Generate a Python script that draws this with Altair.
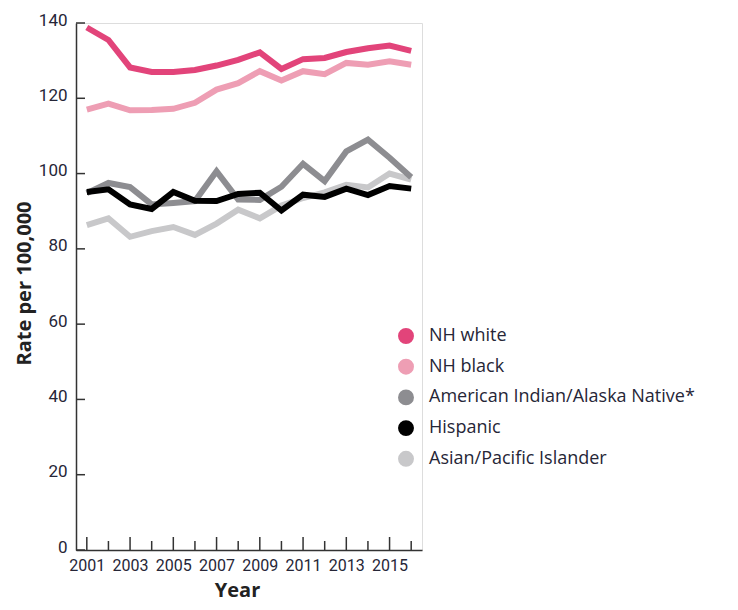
import altair as alt
import pandas as pd

years = list(range(2001, 2017))
nh_white = [138.8, 135.5, 128.2, 127.0, 127.0, 127.5, 128.7, 130.2, 132.2, 127.8, 130.4, 130.7, 132.3, 133.3, 134.0, 132.6]
nh_black = [117.0, 118.6, 116.8, 116.9, 117.2, 118.8, 122.3, 124.0, 127.2, 124.7, 127.2, 126.4, 129.4, 128.9, 129.8, 128.9]
aian = [94.8, 97.5, 96.4, 91.8, 92.2, 92.7, 100.6, 93.1, 93.0, 96.5, 102.6, 98.0, 105.9, 109.0, 104.2, 99.0]
hispanic = [95.1, 95.8, 91.8, 90.6, 95.1, 92.8, 92.7, 94.6, 94.9, 90.2, 94.4, 93.8, 96.0, 94.3, 96.7, 96.0]
asian = [86.3, 88.1, 83.2, 84.7, 85.8, 83.7, 86.7, 90.4, 88.1, 91.5, 93.5, 95.0, 97.0, 96.3, 100.0, 98.4]

legend_order = ["NH white", "NH black", "American Indian/Alaska Native*", "Hispanic", "Asian/Pacific Islander"]
colors = ["#E2447A", "#EE9EB4", "#8D8D91", "#000000", "#C8C8CA"]
draw_order = [("Asian/Pacific Islander", asian), ("American Indian/Alaska Native*", aian),
              ("Hispanic", hispanic), ("NH black", nh_black), ("NH white", nh_white)]

y_ticks = [0, 20, 40, 60, 80, 100, 120, 140]
x_label_years = [2001, 2003, 2005, 2007, 2009, 2011, 2013, 2015]

rows = []
for name, vals in draw_order:
    for yr, v in zip(years, vals):
        rows.append({"Year": yr, "Rate": v, "Group": name})
df = pd.DataFrame(rows)

W, H = 346, 527
TOP = 15
FONT = "Roboto, sans-serif"
TXT = "#262637"

xscale = alt.Scale(domain=[2000.5, 2016.5], nice=False, zero=False)
yscale = alt.Scale(domain=[0, 140], nice=False)

color_enc = alt.Color("Group:N", scale=alt.Scale(domain=legend_order, range=colors),
                      legend=alt.Legend(title=None, orient="none", legendX=321, legendY=304,
                                        symbolType="circle", symbolSize=254, symbolStrokeWidth=0,
                                        symbolOpacity=1, labelFont="Open Sans", labelFontSize=18,
                                        labelColor=TXT, labelOffset=14, rowPadding=12.7, padding=0,
                                        labelLimit=400))

x_enc = alt.X("Year:Q", scale=xscale,
              axis=alt.Axis(values=x_label_years, format="d", ticks=False, grid=False,
                            domainColor="#333333", domainWidth=1.5,
                            labelFont=FONT, labelFontSize=16, labelColor=TXT, labelPadding=7,
                            labelFlush=False,
                            title="Year", titleFont="Open Sans", titleFontSize=20, titleFontWeight="bold",
                            titleColor="#222222", titleX=161, titleY=46, titleBaseline="alphabetic",
                            titleAnchor="start", titleAlign="center"))
y_enc = alt.Y("Rate:Q", scale=yscale,
              axis=alt.Axis(values=y_ticks, ticks=False, grid=False,
                            domainColor="#333333", domainWidth=1.5,
                            labelFont=FONT, labelFontSize=17, labelColor=TXT, labelPadding=9,
                            labelOffset=-3,
                            title="Rate per 100,000", titleFont="Open Sans", titleFontSize=20,
                            titleFontWeight="bold", titleColor="#222222",
                            titleX=-52, titleY=260, titleAngle=-90, titleAlign="center",
                            titleBaseline="middle", titleAnchor="start"))

lines = alt.Chart(df).mark_line(strokeWidth=6, strokeJoin="miter", strokeCap="butt").encode(
    x=x_enc, y=y_enc, color=color_enc)

pts = alt.Chart(df).mark_point(filled=True, size=0, opacity=0).encode(
    x=alt.X("Year:Q", scale=xscale), y=alt.Y("Rate:Q", scale=yscale), color=color_enc)

ytick_df = pd.DataFrame({"v": y_ticks})
ytick_rules = alt.Chart(ytick_df).mark_rule(color="#333333", strokeWidth=1.5).encode(
    y=alt.Y("v:Q", scale=yscale), x=alt.value(0), x2=alt.value(9))

major_df = pd.DataFrame({"yr": x_label_years})
minor_df = pd.DataFrame({"yr": [y for y in years if y not in x_label_years]})
xmajor = alt.Chart(major_df).mark_rule(color="#333333", strokeWidth=1.5).encode(
    x=alt.X("yr:Q", scale=xscale), y=alt.value(H), y2=alt.value(H - 13))
xminor = alt.Chart(minor_df).mark_rule(color="#333333", strokeWidth=1.5).encode(
    x=alt.X("yr:Q", scale=xscale), y=alt.value(H), y2=alt.value(H - 9))

chart = alt.layer(lines, pts, ytick_rules, xmajor, xminor).properties(
    width=W, height=H,
    padding={"left": 68, "top": TOP, "right": 300, "bottom": 52},
    autosize=alt.AutoSizeParams(type="none"),
).configure_view(stroke=None).configure(background="white")

chart.save("out.html", embed_options={"renderer": "svg", "actions": False})
